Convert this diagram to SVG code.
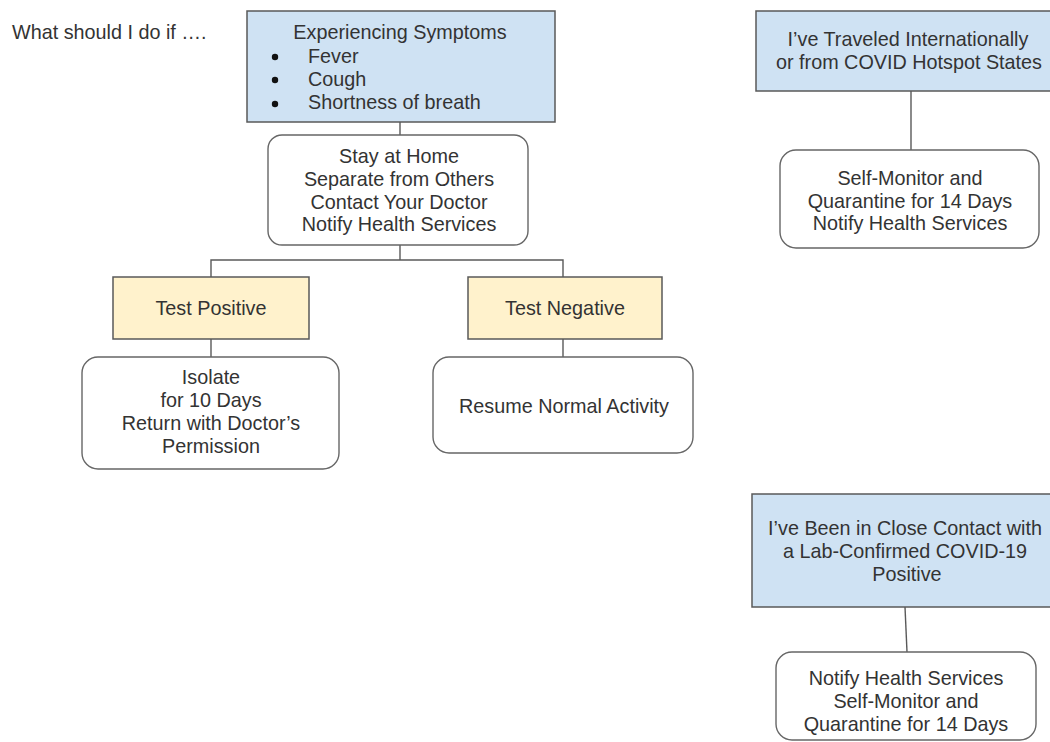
<svg xmlns="http://www.w3.org/2000/svg" width="1050" height="742" viewBox="0 0 1050 742">
<style>
text{font-family:"Liberation Sans",Arial,sans-serif;font-size:19.8px;fill:#333333}
.c{text-anchor:middle}
.blue{fill:#cfe2f3;stroke:#595959;stroke-width:1.5}
.yel{fill:#fff2cc;stroke:#595959;stroke-width:1.5}
.rnd{fill:#ffffff;stroke:#666666;stroke-width:1.4}
.con{stroke:#595959;stroke-width:1.4;fill:none}
</style>
<rect width="1050" height="742" fill="#ffffff"/>
<text id="title" x="12" y="39">What should I do if ….</text>
<g id="connectors">
<line class="con" x1="400" y1="122" x2="400" y2="135"/>
<polyline class="con" points="211,277 211,260 563,260 563,277"/>
<line class="con" x1="400" y1="245" x2="400" y2="260"/>
<line class="con" x1="211" y1="339" x2="211" y2="357"/>
<line class="con" x1="563" y1="339" x2="563" y2="357"/>
<line class="con" x1="911" y1="91" x2="911" y2="150"/>
<line class="con" x1="905" y1="607" x2="907" y2="652"/>
</g>
<g id="symptoms">
<rect class="blue" x="247" y="11" width="308" height="111"/>
<text class="c" x="400" y="39">Experiencing Symptoms</text>
<circle cx="275" cy="57" r="3.2" fill="#111"/>
<circle cx="275" cy="80" r="3.2" fill="#111"/>
<circle cx="275" cy="104" r="3.2" fill="#111"/>
<text x="308" y="62.5">Fever</text>
<text x="308" y="86">Cough</text>
<text x="308" y="109">Shortness of breath</text>
</g>
<g id="stayhome">
<rect class="rnd" x="268" y="135" width="260" height="110" rx="14"/>
<text class="c" x="399" y="163">Stay at Home</text>
<text class="c" x="399" y="186">Separate from Others</text>
<text class="c" x="399" y="208.5">Contact Your Doctor</text>
<text class="c" x="399" y="231">Notify Health Services</text>
</g>
<g id="testpos">
<rect class="yel" x="113" y="277" width="196" height="62"/>
<text class="c" x="211" y="315">Test Positive</text>
</g>
<g id="testneg">
<rect class="yel" x="468" y="277" width="194" height="62"/>
<text class="c" x="565" y="315">Test Negative</text>
</g>
<g id="isolate">
<rect class="rnd" x="82" y="357" width="257" height="112" rx="16"/>
<text class="c" x="211" y="384">Isolate</text>
<text class="c" x="211" y="407"> for 10 Days</text>
<text class="c" x="211" y="430">Return with Doctor’s</text>
<text class="c" x="211" y="453">Permission</text>
</g>
<g id="resume">
<rect class="rnd" x="433" y="357" width="260" height="96" rx="16"/>
<text class="c" x="564" y="413">Resume Normal Activity</text>
</g>
<g id="travel">
<rect class="blue" x="756" y="11" width="300" height="80"/>
<text class="c" x="908" y="46">I’ve Traveled Internationally</text>
<text class="c" x="909" y="69">or from COVID Hotspot States</text>
</g>
<g id="selfmon">
<rect class="rnd" x="780" y="150" width="259" height="98" rx="16"/>
<text class="c" x="910" y="185">Self-Monitor and</text>
<text class="c" x="910" y="208">Quarantine for 14 Days</text>
<text class="c" x="910" y="230">Notify Health Services</text>
</g>
<g id="contact">
<rect class="blue" x="752" y="494" width="304" height="113"/>
<text class="c" x="905" y="535">I’ve Been in Close Contact with</text>
<text class="c" x="905" y="558">a Lab-Confirmed COVID-19</text>
<text class="c" x="907" y="581">Positive</text>
</g>
<g id="notify">
<rect class="rnd" x="776" y="652" width="260" height="88" rx="16"/>
<text class="c" x="906" y="685">Notify Health Services</text>
<text class="c" x="906" y="708">Self-Monitor and</text>
<text class="c" x="906" y="731">Quarantine for 14 Days</text>
</g>
</svg>
